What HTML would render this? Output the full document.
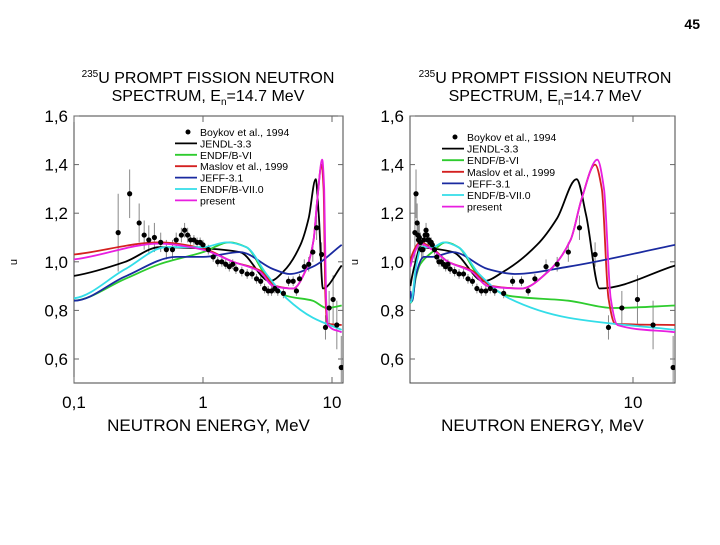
<!DOCTYPE html>
<html><head><meta charset="utf-8"><style>
body{margin:0;background:#fff;width:720px;height:540px;overflow:hidden;font-family:"Liberation Sans",sans-serif}
svg text{font-family:"Liberation Sans",sans-serif}
</style></head><body>
<svg id="s" width="720" height="540" xmlns="http://www.w3.org/2000/svg">
<text x="700" y="29" font-size="14" font-weight="bold" text-anchor="end">45</text>
</svg>
<script>
const legendNames=["Boykov et al., 1994","JENDL-3.3","ENDF/B-VI","Maslov et al., 1999","JEFF-3.1","ENDF/B-VII.0"," present"];
const seriesColors=["#000","#2ecc2e","#d42020","#1a2aa0","#33dde8","#e81ee0"];
const yTicks=[0.6,0.8,1.0,1.2,1.4,1.6];
const yTickLabels=["0,6","0,8","1,0","1,2","1,4","1,6"];
const jendlE=[0.02,0.1,0.25,0.46,1,1.93,3.3,4.2,5.7,6.6,7.47,7.9,8.5,11.9];
const jendlU=[0.90,0.942,1.0,1.06,1.055,1.04,0.92,0.96,1.07,1.18,1.34,1.19,0.89,0.985];
const endf6E=[0.02,0.1,0.25,0.46,1,1.61,2.17,3.1,4.44,7.1,9.1,11.9];
const endf6U=[0.83,0.84,0.93,0.99,1.04,1.08,1.06,0.94,0.86,0.84,0.81,0.82];
const maslovE=[0.02,0.1,0.46,1,1.71,2.75,3.7,5.0,6.2,7.2,7.7,8.3,8.6,8.9,9.2,11.9];
const maslovU=[1.0,1.03,1.08,1.055,1.0,0.965,0.9,0.89,0.96,1.09,1.26,1.40,1.3,0.85,0.745,0.74];
const jeffE=[0.02,0.1,0.25,0.62,1,1.93,3.5,4.7,7.1,11.9];
const jeffU=[0.88,0.84,0.94,1.02,1.02,1.04,0.97,0.95,0.98,1.07];
const cyanE=[0.02,0.1,0.25,0.52,1,1.52,2.17,3.1,4.44,7.1,11.9];
const cyanU=[0.83,0.85,0.97,1.06,1.06,1.08,1.06,0.95,0.85,0.77,0.72];
const presentE=[0.02,0.1,0.46,1,1.71,2.75,3.5,5.0,6.2,7.2,7.7,8.4,8.7,9.0,9.3,11.9];
const presentU=[0.98,1.01,1.075,1.05,1.0,0.96,0.9,0.89,0.96,1.09,1.26,1.42,1.3,0.85,0.74,0.71];
const expE=[0.22,0.27,0.32,0.35,0.38,0.42,0.47,0.52,0.58,0.62,0.68,0.72,0.76,0.8,0.85,0.9,0.95,1.0,1.1,1.2,1.3,1.4,1.5,1.6,1.7,1.8,2.0,2.2,2.4,2.6,2.8,3.0,3.2,3.4,3.6,3.8,4.2,4.6,5.0,5.3,5.6,6.1,6.6,7.1,7.6,8.3,8.9,9.5,10.2,10.9,11.8];
const expU=[1.12,1.28,1.16,1.11,1.09,1.10,1.08,1.05,1.05,1.09,1.11,1.13,1.11,1.09,1.09,1.08,1.08,1.07,1.05,1.02,1.0,1.0,0.99,0.98,0.99,0.97,0.96,0.95,0.95,0.93,0.92,0.89,0.88,0.88,0.89,0.88,0.87,0.92,0.92,0.88,0.93,0.98,0.99,1.04,1.14,1.03,0.73,0.81,0.845,0.74,0.565];
const expErr=[0.16,0.1,0.08,0.06,0.06,0.06,0.04,0.04,0.04,0.03,0.03,0.03,0.03,0.02,0.02,0.02,0.02,0.02,0.02,0.02,0.02,0.02,0.02,0.02,0.02,0.02,0.02,0.02,0.02,0.02,0.02,0.02,0.02,0.02,0.02,0.02,0.02,0.02,0.02,0.02,0.02,0.03,0.03,0.04,0.05,0.05,0.05,0.07,0.1,0.1,0.13];
const curvesE=[jendlE,endf6E,maslovE,jeffE,cyanE,presentE];
const curvesU=[jendlU,endf6U,maslovU,jeffU,cyanU,presentU];
const curveNames=["jendl-curve","endf-b6-curve","maslov-curve","jeff-curve","endf-b7-curve","present-curve"];

const NS="http://www.w3.org/2000/svg";const svg=document.getElementById('s');
function mk(p,t,a){const e=document.createElementNS(NS,t);for(const k in a)e.setAttribute(k,a[k]);p.appendChild(e);return e;}
const top0=116,bot0=383;
const yS=u=>116+(1.6-u)*243;
function mono(pts){const n=pts.length,d=[],m=[];
for(let i=0;i<n-1;i++)d.push((pts[i+1][1]-pts[i][1])/(pts[i+1][0]-pts[i][0]));
m[0]=d[0];m[n-1]=d[n-2];
for(let i=1;i<n-1;i++){if(d[i-1]*d[i]<=0)m[i]=0;else{const h0=pts[i][0]-pts[i-1][0],h1=pts[i+1][0]-pts[i][0];const w1=2*h1+h0,w2=h1+2*h0;m[i]=(w1+w2)/(w1/d[i-1]+w2/d[i]);}}
let s='M'+pts[0][0].toFixed(1)+','+pts[0][1].toFixed(1);
for(let i=0;i<n-1;i++){const h=(pts[i+1][0]-pts[i][0])/3;
s+=' C'+(pts[i][0]+h).toFixed(1)+','+(pts[i][1]+m[i]*h).toFixed(1)+' '+(pts[i+1][0]-h).toFixed(1)+','+(pts[i+1][1]-m[i+1]*h).toFixed(1)+' '+pts[i+1][0].toFixed(1)+','+pts[i+1][1].toFixed(1);}
return s;}

function chart(id,L,R,xS,titleX,legX,legY,legDy,uX,xLabels){
 const g=mk(svg,'g',{});
 
 
 const t=mk(g,'text',{x:titleX,y:83,'font-size':16,'text-anchor':'middle'});
 
 
 t.innerHTML='<tspan font-size="10" dy="-6">235</tspan><tspan dy="6">U PROMPT FISSION NEUTRON</tspan>';
 const t2=mk(g,'text',{x:titleX,y:101,'font-size':16,'text-anchor':'middle'});
 
 
 t2.innerHTML='SPECTRUM, E<tspan font-size="10" dy="4">n</tspan><tspan dy="-4">=14.7 MeV</tspan>';
 const cid='c'+id;const cp=mk(g,'clipPath',{id:cid});mk(cp,'rect',{x:L,y:top0,width:R-L,height:bot0-top0});
 const fr=mk(g,'rect',{x:L,y:top0,width:R-L,height:bot0-top0,fill:'none',stroke:'#444','stroke-width':1});
 
 
 yTicks.forEach((v,i)=>{const y=yS(v);
  mk(g,'line',{x1:L,x2:L+5,y1:y,y2:y,stroke:'#666'});mk(g,'line',{x1:R-5,x2:R,y1:y,y2:y,stroke:'#666'});
  const tl=mk(g,'text',{x:L-6,y:y+6,'font-size':17,'text-anchor':'end'});tl.textContent=yTickLabels[i];
  
  });
 const ul=mk(g,'text',{x:uX,y:262,'font-size':11,'text-anchor':'middle',transform:'rotate(-90 '+uX+' 262)'});ul.textContent='u';
 
 
 xLabels.forEach(([v,s])=>{const x=xS(v);mk(g,'line',{x1:x,x2:x,y1:bot0,y2:bot0-6,stroke:'#666'});mk(g,'line',{x1:x,x2:x,y1:top0,y2:top0+6,stroke:'#666'});
  const xl=mk(g,'text',{x:x,y:408,'font-size':17,'text-anchor':'middle'});xl.textContent=s;
  
  });
 const xt=mk(g,'text',{x:(L+R)/2,y:431,'font-size':17,'text-anchor':'middle'});xt.textContent='NEUTRON ENERGY, MeV';
 
 
 const pg=mk(g,'g',{'clip-path':'url(#'+cid+')'});
 expE.forEach((e,i)=>{const x=xS(e);
  const eb=mk(pg,'line',{x1:x,x2:x,y1:yS(expU[i]+expErr[i]),y2:yS(expU[i]-expErr[i]),stroke:'#888','stroke-width':1});
  
  });
 curvesE.forEach((E,k)=>{const pts=E.map((e,i)=>[xS(e),yS(curvesU[k][i])]);
  const p=mk(pg,'path',{d:mono(pts),fill:'none',stroke:seriesColors[k],'stroke-width':1.8});
  
  });
 expE.forEach((e,i)=>{const c=mk(pg,'circle',{cx:xS(e),cy:yS(expU[i]),r:2.6,fill:'#000'});
  
  });
 legendNames.forEach((n,i)=>{const y=legY+i*legDy;
  if(i==0)mk(g,'circle',{cx:legX-12,cy:y-3,r:2.5,fill:'#000'});
  else mk(g,'line',{x1:legX-25,x2:legX-3,y1:y-3,y2:y-3,stroke:seriesColors[i-1],'stroke-width':1.8});
  const lt=mk(g,'text',{x:legX,y:y+1,'font-size':10.5});lt.textContent=n;
  
  });
}
chart('left-chart',74,343,e=>74+(Math.log10(e)+1)*129,208,200,135,11.4,17,[[0.1,'0,1'],[1,'1'],[10,'10']]);
chart('right-chart',410,675,e=>410+e*22.3,545,467,140,11.6,358,[[10,'10']]);
</script>
</body></html>
